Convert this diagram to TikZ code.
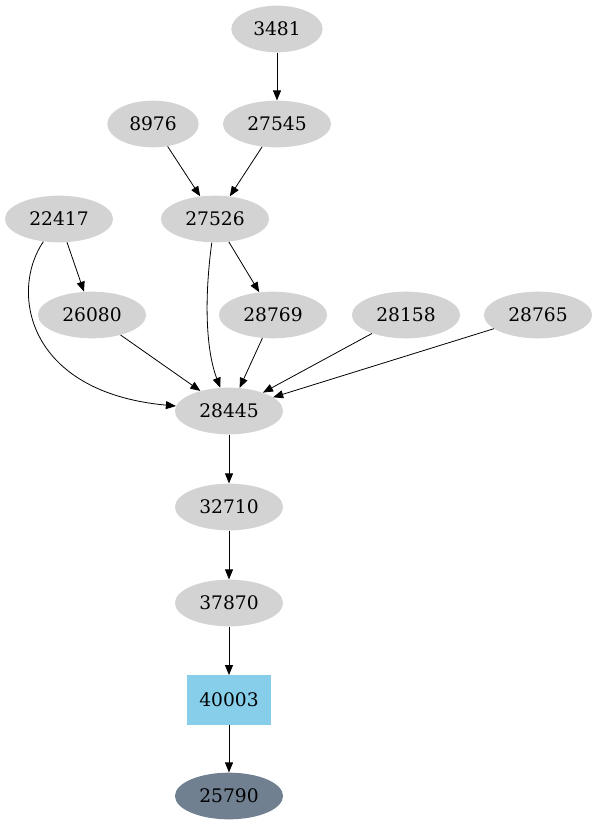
\documentclass[tikz,border=0pt]{standalone}
\usepackage{fontspec}
\setmainfont{DejaVu Serif}
\usetikzlibrary{shapes.geometric,arrows.meta}
\definecolor{nodegray}{HTML}{D3D3D3}
\definecolor{skyblue}{HTML}{87CEEB}
\definecolor{slategray}{HTML}{708090}
\tikzset{
  blob/.style={ellipse,fill=nodegray,inner xsep=6.4pt,inner ysep=3pt,
    minimum height=35pt,font=\fontsize{14}{16}\selectfont},
  edge/.style={-{Triangle[length=7.5pt,width=6pt]},line width=0.6pt},
}
\begin{document}
\begin{tikzpicture}[x=0.75pt,y=-0.75pt]
  \useasboundingbox (0,0) rectangle (597,827);
  % nodes
  \node[blob] (n3481)  at (277,29)  {3481};
  \node[blob] (n8976)  at (153,124) {8976};
  \node[blob] (n27545) at (277,124) {27545};
  \node[blob] (n22417) at (59,219)  {22417};
  \node[blob] (n27526) at (215,219) {27526};
  \node[blob] (n26080) at (92,315)  {26080};
  \node[blob] (n28769) at (273,315) {28769};
  \node[blob] (n28158) at (406,315) {28158};
  \node[blob] (n28765) at (538,315) {28765};
  \node[blob] (n28445) at (229,411) {28445};
  \node[blob] (n32710) at (229,507) {32710};
  \node[blob] (n37870) at (229,603) {37870};
  \node[rectangle,fill=skyblue,minimum width=63pt,minimum height=37pt,
    font=\fontsize{14}{16}\selectfont] (n40003) at (229,700) {40003};
  \node[blob,fill=slategray] (n25790) at (229,796) {25790};
  % edges
  \draw[edge] (n3481) -- (n27545);
  \draw[edge] (n27545) -- (n27526);
  \draw[edge] (n8976) -- (n27526);
  \draw[edge] (n22417) -- (n26080);
  \draw[edge] (n22417) .. controls (10,290) and (25,392) .. (n28445);
  \draw[edge] (n27526) -- (n28769);
  \draw[edge] (n27526) .. controls (204,300) and (206,350) .. (n28445);
  \foreach \src in {n26080,n28769,n28158,n28765}
    \draw[edge] (\src) -- (n28445);
  \draw[edge] (n28445) -- (n32710);
  \draw[edge] (n32710) -- (n37870);
  \draw[edge] (n37870) -- (n40003);
  \draw[edge] (n40003) -- (n25790);
\end{tikzpicture}
\end{document}
